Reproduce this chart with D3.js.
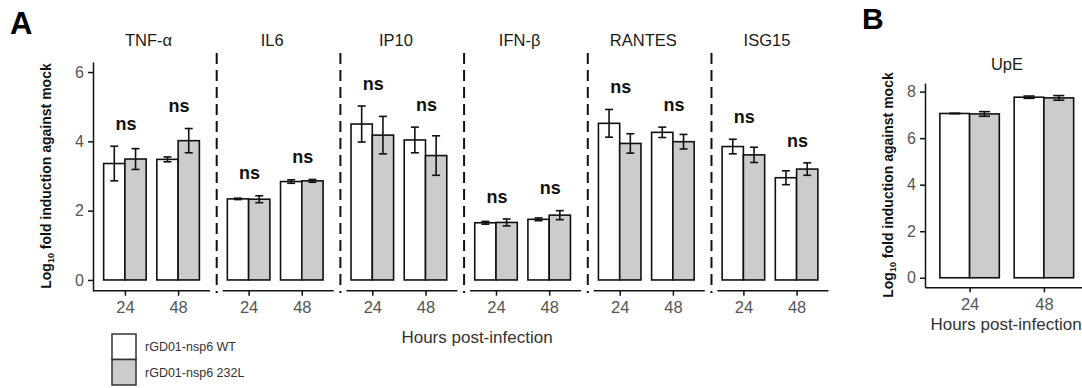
<!DOCTYPE html>
<html>
<head>
<meta charset="utf-8">
<script src="https://cdn.jsdelivr.net/npm/d3@7"></script>
<style>
  body { margin: 0; background: #fff; }
  svg { display: block; font-family: "Liberation Sans", Arial, sans-serif; }
</style>
</head>
<body>
<div id="chart"></div>
<script>
// data (log10 fold induction against mock)
const genes = ["TNF-α", "IL6", "IP10", "IFN-β", "RANTES", "ISG15"];
const hours = ["24", "48"];
const groups = ["rGD01-nsp6 WT", "rGD01-nsp6 232L"];

// per gene: [24h, 48h]
const wtMean  = [[3.36, 3.48], [2.34, 2.84], [4.50, 4.04], [1.65, 1.75], [4.52, 4.26], [3.85, 2.95]];
const wtErr   = [[0.50, 0.07], [0.02, 0.05], [0.52, 0.37], [0.04, 0.04], [0.40, 0.15], [0.21, 0.20]];
const mutMean = [[3.49, 4.02], [2.33, 2.86], [4.18, 3.59], [1.66, 1.87], [3.94, 3.99], [3.61, 3.20]];
const mutErr  = [[0.30, 0.35], [0.10, 0.04], [0.54, 0.57], [0.10, 0.13], [0.28, 0.21], [0.22, 0.18]];
const sigLabels = [["ns", "ns"], ["ns", "ns"], ["ns", "ns"], ["ns", "ns"], ["ns", "ns"], ["ns", "ns"]];

// panel B (UpE)
const upeGene = "UpE";
const upeWtMean = [7.06, 7.76];
const upeWtErr = [0.01, 0.05];
const upeMutMean = [7.04, 7.73];
const upeMutErr = [0.10, 0.10];

const yTicksA = [0, 2, 4, 6];
const yTicksB = [0, 2, 4, 6, 8];

const fills = ["#ffffff", "#cccccc"];
const ink = "#111";
const grayText = "#555";

const svg = d3.select("#chart").append("svg")
    .attr("width", 1082)
    .attr("height", 388);

// ---------- panel A ----------
const yA = d3.scaleLinear().domain([-0.31, 6.29]).range([290.7, 62]);

const facet = d3.scaleBand()
    .domain(genes)
    .range([93, 828.5])
    .paddingInner(0.054);

const panelW = facet.bandwidth();

const xIn = d3.scalePoint().domain(hours).range([0, panelW]).padding(0.6);
const stepA = xIn.step();
const dodgeA = d3.scaleBand().domain(groups).range([-0.4 * stepA, 0.4 * stepA]);

// y axis
svg.append("g")
    .attr("transform", "translate(93,0)")
    .call(d3.axisLeft(yA).tickValues(yTicksA).tickFormat(d3.format("d"))
        .tickSize(5).tickSizeOuter(0).tickPadding(4))
    .call(g => g.select(".domain").attr("stroke", ink).attr("stroke-width", 1.5))
    .call(g => g.selectAll(".tick line").attr("stroke", ink).attr("stroke-width", 1.5))
    .call(g => g.selectAll(".tick text").attr("font-size", 16).attr("fill", grayText)
        .attr("font-family", "Liberation Sans, Arial, sans-serif"));

genes.forEach((gene, gi) => {
  const left = facet(gene);
  const g = svg.append("g").attr("transform", `translate(${left},0)`);

  // facet title
  g.append("text")
      .attr("x", panelW / 2 - 3)
      .attr("y", 46)
      .attr("text-anchor", "middle")
      .attr("font-size", 16.5)
      .attr("fill", "#1a1a1a")
      .text(gene);

  // dashed separator
  if (gi > 0) {
    g.append("line")
        .attr("x1", 0).attr("x2", 0)
        .attr("y1", 53).attr("y2", 293)
        .attr("stroke", ink)
        .attr("stroke-width", 2)
        .attr("stroke-dasharray", "11,6");
  }

  // x axis
  g.append("g")
      .attr("transform", `translate(0,${yA.range()[0]})`)
      .call(d3.axisBottom(xIn).tickSize(5).tickSizeOuter(0).tickPadding(6))
      .call(a => a.select(".domain").remove())
      .call(a => a.selectAll(".tick line").attr("stroke", ink).attr("stroke-width", 1.5))
      .call(a => a.selectAll(".tick text").attr("font-size", 16.5).attr("fill", grayText)
          .attr("font-family", "Liberation Sans, Arial, sans-serif"));
  g.append("line")
      .attr("x1", gi > 0 ? 6 : 0).attr("x2", panelW)
      .attr("y1", yA.range()[0]).attr("y2", yA.range()[0])
      .attr("stroke", ink).attr("stroke-width", 1.5);

  const rows = [];
  hours.forEach((h, hi) => {
    rows.push({ h, grp: groups[0], mean: wtMean[gi][hi], err: wtErr[gi][hi], fill: fills[0] });
    rows.push({ h, grp: groups[1], mean: mutMean[gi][hi], err: mutErr[gi][hi], fill: fills[1] });
  });

  g.selectAll("rect.bar").data(rows).enter().append("rect")
      .attr("class", "bar")
      .attr("x", d => xIn(d.h) + dodgeA(d.grp))
      .attr("width", dodgeA.bandwidth())
      .attr("y", d => yA(d.mean))
      .attr("height", d => yA(0) - yA(d.mean))
      .attr("fill", d => d.fill)
      .attr("stroke", ink)
      .attr("stroke-width", 1.6);

  const capA = 0.15 * stepA;
  const eb = g.selectAll("g.err").data(rows).enter().append("g")
      .attr("class", "err")
      .attr("transform", d => `translate(${xIn(d.h) + dodgeA(d.grp) + dodgeA.bandwidth() / 2},0)`)
      .attr("stroke", ink).attr("stroke-width", 1.6);
  eb.append("line").attr("y1", d => yA(d.mean + d.err)).attr("y2", d => yA(d.mean - d.err));
  eb.append("line").attr("x1", -capA / 2).attr("x2", capA / 2)
      .attr("y1", d => yA(d.mean + d.err)).attr("y2", d => yA(d.mean + d.err));
  eb.append("line").attr("x1", -capA / 2).attr("x2", capA / 2)
      .attr("y1", d => yA(d.mean - d.err)).attr("y2", d => yA(d.mean - d.err));

  // significance labels
  hours.forEach((h, hi) => {
    const top = Math.max(wtMean[gi][hi] + wtErr[gi][hi], mutMean[gi][hi] + mutErr[gi][hi]);
    g.append("text")
        .attr("x", xIn(h) + 1)
        .attr("y", yA(top + 0.47))
        .attr("text-anchor", "middle")
        .attr("font-size", 18)
        .attr("font-weight", "bold")
        .attr("fill", ink)
        .text(sigLabels[gi][hi]);
  });
});

// y title A
const yTitleA = svg.append("text")
    .attr("transform", "translate(51,176) rotate(-90)")
    .attr("text-anchor", "middle")
    .attr("font-size", 14)
    .attr("font-weight", "bold")
    .attr("fill", ink);
yTitleA.append("tspan").text("Log");
yTitleA.append("tspan").attr("font-size", 9).attr("dy", 3).text("10");
yTitleA.append("tspan").attr("dy", -3).text(" fold induction against mock");

svg.append("text")
    .attr("x", 477).attr("y", 343)
    .attr("text-anchor", "middle")
    .attr("font-size", 17)
    .attr("fill", "#333")
    .text("Hours post-infection");

// legend
const legend = svg.append("g").attr("transform", "translate(112,334)");
groups.forEach((grp, i) => {
  legend.append("rect")
      .attr("x", 0).attr("y", i * 25.5)
      .attr("width", 24).attr("height", 25.5)
      .attr("fill", fills[i])
      .attr("stroke", "#333").attr("stroke-width", 1.5);
  legend.append("text")
      .attr("x", 33).attr("y", i * 25.5 + 17)
      .attr("font-size", 12.5)
      .attr("fill", "#333")
      .text(grp);
});

svg.append("text")
    .attr("x", 10).attr("y", 34)
    .attr("font-size", 31).attr("font-weight", "bold")
    .text("A");

// ---------- panel B ----------
const yB = d3.scaleLinear().domain([-0.41, 8.37]).range([287.3, 83]);
const xB = d3.scalePoint().domain(hours).range([925, 1088.5]).padding(0.6);
const stepB = xB.step();
const dodgeB = d3.scaleBand().domain(groups).range([-0.4 * stepB, 0.4 * stepB]);

const gB = svg.append("g");

gB.append("g")
    .attr("transform", "translate(925,0)")
    .call(d3.axisLeft(yB).tickValues(yTicksB).tickFormat(d3.format("d"))
        .tickSize(5).tickSizeOuter(0).tickPadding(4))
    .call(g => g.select(".domain").attr("stroke", ink).attr("stroke-width", 1.5))
    .call(g => g.selectAll(".tick line").attr("stroke", ink).attr("stroke-width", 1.5))
    .call(g => g.selectAll(".tick text").attr("font-size", 16).attr("fill", grayText)
        .attr("font-family", "Liberation Sans, Arial, sans-serif"));

gB.append("g")
    .attr("transform", `translate(0,${yB.range()[0]})`)
    .call(d3.axisBottom(xB).tickSize(5).tickSizeOuter(0).tickPadding(6))
    .call(a => a.select(".domain").attr("stroke", ink).attr("stroke-width", 1.5))
    .call(a => a.selectAll(".tick line").attr("stroke", ink).attr("stroke-width", 1.5))
    .call(a => a.selectAll(".tick text").attr("font-size", 16.5).attr("fill", grayText)
        .attr("font-family", "Liberation Sans, Arial, sans-serif"));

const rowsB = [];
hours.forEach((h, hi) => {
  rowsB.push({ h, grp: groups[0], mean: upeWtMean[hi], err: upeWtErr[hi], fill: fills[0] });
  rowsB.push({ h, grp: groups[1], mean: upeMutMean[hi], err: upeMutErr[hi], fill: fills[1] });
});

gB.selectAll("rect.bar").data(rowsB).enter().append("rect")
    .attr("class", "bar")
    .attr("x", d => xB(d.h) + dodgeB(d.grp))
    .attr("width", dodgeB.bandwidth())
    .attr("y", d => yB(d.mean))
    .attr("height", d => yB(0) - yB(d.mean))
    .attr("fill", d => d.fill)
    .attr("stroke", ink)
    .attr("stroke-width", 1.6);

const capB = 0.15 * stepB;
const ebB = gB.selectAll("g.err").data(rowsB).enter().append("g")
    .attr("class", "err")
    .attr("transform", d => `translate(${xB(d.h) + dodgeB(d.grp) + dodgeB.bandwidth() / 2},0)`)
    .attr("stroke", ink).attr("stroke-width", 1.6);
ebB.append("line").attr("y1", d => yB(d.mean + d.err)).attr("y2", d => yB(d.mean - d.err));
ebB.append("line").attr("x1", -capB / 2).attr("x2", capB / 2)
    .attr("y1", d => yB(d.mean + d.err)).attr("y2", d => yB(d.mean + d.err));
ebB.append("line").attr("x1", -capB / 2).attr("x2", capB / 2)
    .attr("y1", d => yB(d.mean - d.err)).attr("y2", d => yB(d.mean - d.err));

gB.append("text")
    .attr("x", 1007).attr("y", 70)
    .attr("text-anchor", "middle")
    .attr("font-size", 16.5)
    .attr("fill", "#1a1a1a")
    .text(upeGene);

const yTitleB = gB.append("text")
    .attr("transform", "translate(893,185) rotate(-90)")
    .attr("text-anchor", "middle")
    .attr("font-size", 14)
    .attr("font-weight", "bold")
    .attr("fill", ink);
yTitleB.append("tspan").text("Log");
yTitleB.append("tspan").attr("font-size", 9).attr("dy", 3).text("10");
yTitleB.append("tspan").attr("dy", -3).text(" fold induction against mock");

gB.append("text")
    .attr("x", 1006).attr("y", 330)
    .attr("text-anchor", "middle")
    .attr("font-size", 17)
    .attr("fill", "#333")
    .text("Hours post-infection");

svg.append("text")
    .attr("x", 862).attr("y", 29)
    .attr("font-size", 30).attr("font-weight", "bold")
    .text("B");
</script>
</body>
</html>
